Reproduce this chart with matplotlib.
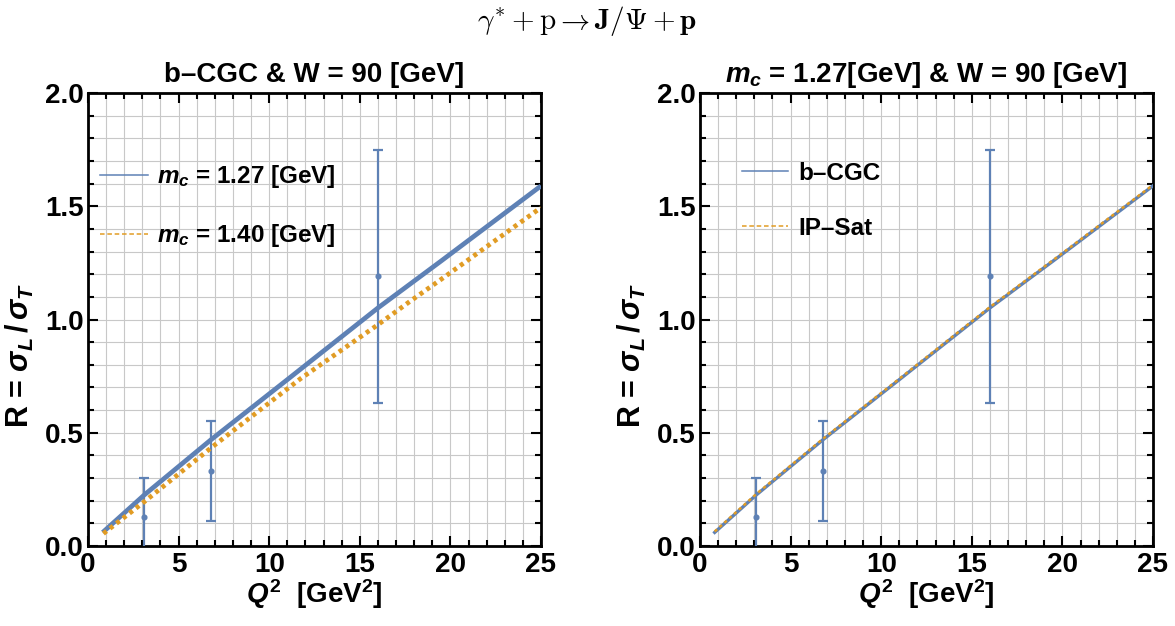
import numpy as np
import matplotlib
matplotlib.use('Agg')
import matplotlib.pyplot as plt
from matplotlib.lines import Line2D
from matplotlib.ticker import MultipleLocator

plt.rcParams['font.family'] = ['Liberation Sans', 'DejaVu Sans']
plt.rcParams['font.weight'] = 'bold'
plt.rcParams['axes.labelweight'] = 'bold'
plt.rcParams['axes.titleweight'] = 'bold'
plt.rcParams['mathtext.fontset'] = 'custom'
plt.rcParams['mathtext.rm'] = 'Liberation Sans:bold'
plt.rcParams['mathtext.bf'] = 'Liberation Sans:bold'
plt.rcParams['mathtext.it'] = 'Liberation Sans:italic:bold'

BLUE = '#5E81B5'
ORANGE = '#E19C24'

# data
q2_mc127 = [0.81, 3.1, 6.8, 11.04, 16.0, 19.5, 25.0]
r_mc127 = [0.06, 0.225, 0.47, 0.737, 1.051, 1.259, 1.59]
q2_mc140 = [0.85, 3.1, 6.8, 11.7, 16.0, 17.7, 19.5, 25.0]
r_mc140 = [0.055, 0.195, 0.434, 0.737, 0.977, 1.076, 1.178, 1.494]

q2_bcgc = [0.81, 3.1, 6.8, 11.04, 16.0, 19.5, 25.0]
r_bcgc = [0.06, 0.225, 0.47, 0.737, 1.051, 1.259, 1.59]
q2_ipsat = [0.81, 3.1, 6.8, 11.04, 16.0, 19.5, 25.0]
r_ipsat = [0.064, 0.229, 0.474, 0.741, 1.055, 1.263, 1.594]

q2_data = [3.1, 6.8, 16.0]
r_data = [0.13, 0.33, 1.19]
r_err = [0.17, 0.22, 0.56]


def style_axes(ax, title):
    ax.set_xlim(0, 25)
    ax.set_ylim(0, 2.0)
    ax.xaxis.set_major_locator(MultipleLocator(5))
    ax.xaxis.set_minor_locator(MultipleLocator(1))
    ax.yaxis.set_minor_locator(MultipleLocator(0.1))
    ax.set_yticks(np.arange(0, 2.01, 0.5))
    ax.set_yticklabels(['0.0', '0.5', '1.0', '1.5', '2.0'])
    ax.grid(True, which='both', color='#c8c8c8', linewidth=0.8)
    ax.set_axisbelow(True)
    ax.tick_params(which='both', direction='in', top=True, right=True,
                   width=1.5, labelsize=20)
    ax.tick_params(axis='x', pad=4)
    ax.tick_params(axis='y', pad=3)
    ax.tick_params(which='major', length=7)
    ax.tick_params(which='minor', length=4)
    for s in ax.spines.values():
        s.set_linewidth(2.0)
    ax.set_title(title, fontsize=20, fontweight='bold', pad=8)
    ax.set_xlabel(r'$Q^2$  [GeV$^2$]', fontsize=20, fontweight='bold', labelpad=0)
    ax.set_ylabel(r'R = $\sigma_L\,/\,\sigma_T$', fontsize=22, fontweight='bold')
    ax.yaxis.set_label_coords(-0.115, 0.42)
    ax.errorbar(q2_data, r_data, yerr=r_err, fmt='o', color=BLUE,
                markersize=3.4, elinewidth=1.6, capsize=3.6, capthick=1.6,
                zorder=3)


fig = plt.figure(figsize=(11.75, 6.26), dpi=100)
ax1 = fig.add_axes([88 / 1175, 80 / 626, 453 / 1175, 453 / 626])
ax2 = fig.add_axes([700 / 1175, 80 / 626, 453 / 1175, 453 / 626])

# left panel
style_axes(ax1, 'b\u2013CGC & W = 90 [GeV]')
ax1.plot(q2_mc127, r_mc127, color=BLUE, lw=3.4, solid_capstyle='butt', zorder=4)
ax1.plot(q2_mc140, r_mc140, color=ORANGE, lw=3.4, linestyle=(0, (0.85, 0.9)),
         dash_capstyle='butt', zorder=5)
h1 = [Line2D([], [], color=BLUE, lw=1.1),
      Line2D([], [], color=ORANGE, lw=1.1, linestyle=(0, (3.0, 1.8)))]
ax1.legend(h1, [r'$m_c$ = 1.27 [GeV]', r'$m_c$ = 1.40 [GeV]'],
           loc='upper left', bbox_to_anchor=(0.0265, 0.845), frameon=False,
           borderpad=0, borderaxespad=0,
           fontsize=17.5, handlelength=1.98, labelspacing=1.32,
           handletextpad=0.37)

# right panel
style_axes(ax2, r'$m_c$ = 1.27[GeV] & W = 90 [GeV]')
ax2.plot(q2_bcgc, r_bcgc, color=BLUE, lw=2.4, zorder=4)
ax2.plot(q2_ipsat, r_ipsat, color=ORANGE, lw=1.8, linestyle=(0, (1.3, 1.3)),
         zorder=5)
h2 = [Line2D([], [], color=BLUE, lw=1.1),
      Line2D([], [], color=ORANGE, lw=1.1, linestyle=(0, (3.0, 1.8)))]
ax2.legend(h2, ['b\u2013CGC', 'IP\u2013Sat'],
           loc='upper left', bbox_to_anchor=(0.093, 0.848), frameon=False,
           borderpad=0, borderaxespad=0,
           fontsize=17.5, handlelength=1.9, labelspacing=1.32,
           handletextpad=0.41)

fig.text(0.5, 0.966, r'$\gamma^{*}+\mathrm{p}\rightarrow\mathbf{J/\Psi}+\mathbf{p}$',
         ha='center', va='center', fontsize=21, math_fontfamily='cm')

fig.savefig('out.png', dpi=100)
